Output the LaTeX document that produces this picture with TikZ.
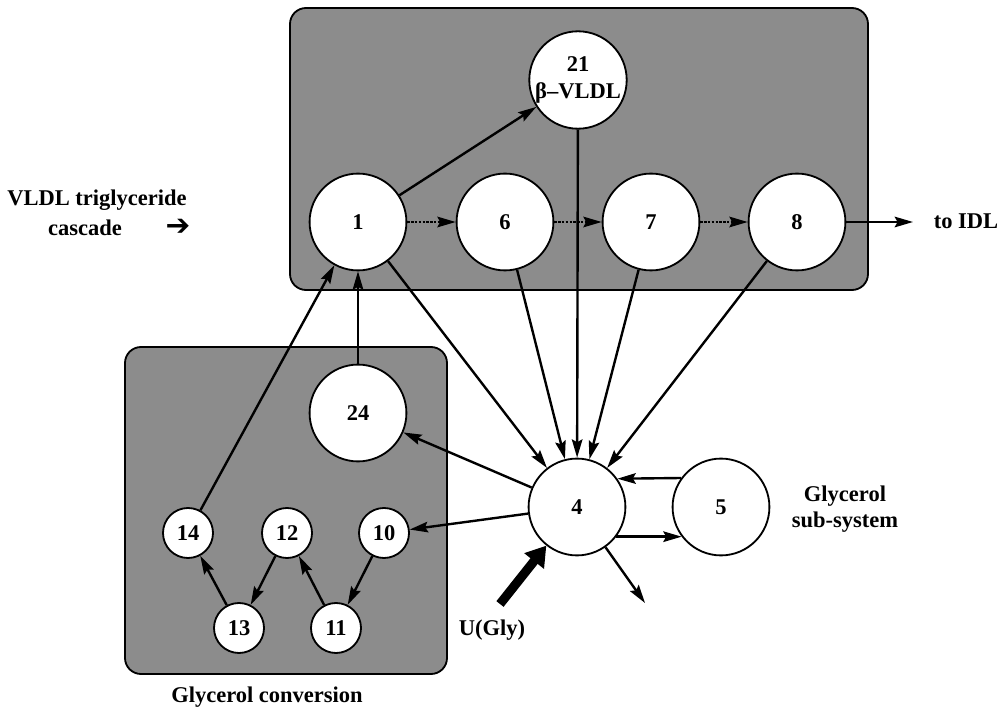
\documentclass[tikz,border=0pt]{standalone}
\usepackage{fontspec}
\setmainfont{Liberation Serif}
\newfontfamily\arrowfont{DejaVu Sans}
\usetikzlibrary{arrows.meta}
\begin{document}
\begin{tikzpicture}[x=0.025cm,y=-0.025cm,
  every node/.style={font=\bfseries\fontsize{16}{19}\selectfont},
  pool/.style={circle,draw,fill=white,line width=1.3pt,minimum size=2.42cm,inner sep=0pt},
  smallpool/.style={pool,minimum size=1.25cm},
  box/.style={draw,line width=1.3pt,fill=black!45,rounded corners=0.4cm},
  flow/.style={line width=1.7pt,-{Stealth[length=13pt,width=7.5pt,inset=2pt]}},
  bigflow/.style={line width=6.5pt,-{Triangle[length=14pt,width=17pt]}}]

\useasboundingbox (0,0) rectangle (1002,708);

\draw[box] (290,8) rectangle (868,290);
\draw[box] (125,347) rectangle (447,674);

\node at (358,222) [pool] (n1) {1};
\node at (505,222) [pool] (n6) {6};
\node at (651,222) [pool] (n7) {7};
\node at (797,222) [pool] (n8) {8};
\node at (578,80) [pool,align=center] (n21) {21\\β–VLDL};
\node at (358,413) [pool] (n24) {24};
\node at (577,507) [pool] (n4) {4};
\node at (721,507) [pool] (n5) {5};

\node at (188,533) [smallpool] (n14) {14};
\node at (287,533) [smallpool] (n12) {12};
\node at (384,533) [smallpool] (n10) {10};
\node at (239,628) [smallpool] (n13) {13};
\node at (336,628) [smallpool] (n11) {11};

\node at (97,200) (vldl) {VLDL triglyceride};
\node at (85,228) (casc) {cascade};
\node at (178,227) (inarr) {\arrowfont\fontsize{21}{24}\selectfont ➔};
\node at (966,221) (idl) {to IDL};
\node at (845,509) [align=center] (glysub) {Glycerol\\sub-system};
\node at (492,630) (ugly) {U(Gly)};
\node at (267,697) (glyconv) {Glycerol conversion};

\coordinate (idlend) at (913,222);
\coordinate (uin) at (500,604);
\coordinate (out) at (645,603);

\draw[flow] (n1) -- (n21);
\draw[flow,densely dotted] (n1) -- (n6);
\draw[flow,densely dotted] (n6) -- (n7);
\draw[flow,densely dotted] (n7) -- (n8);
\draw[flow] (n8) -- (idlend);

\draw[flow] (n1) -- (n4);
\draw[flow] (n6) -- (n4);
\draw[flow] (n21) -- (n4);
\draw[flow] (n7) -- (n4);
\draw[flow] (n8) -- (n4);

\draw[flow] (n4) -- (n24);
\draw[flow] (n4) -- (n10);
\draw[flow] (n5.144.5) -- (n4.35.5);
\draw[flow] (n4.-37) -- (n5.217);
\draw[flow] (n4) -- (out);
\draw[bigflow] (uin) -- (n4);

\draw[flow] (n24) -- (n1);
\draw[flow] (n14) -- (n1);
\draw[flow] (n13) -- (n14);
\draw[flow] (n12) -- (n13);
\draw[flow] (n11) -- (n12);
\draw[flow] (n10) -- (n11);

\end{tikzpicture}
\end{document}
